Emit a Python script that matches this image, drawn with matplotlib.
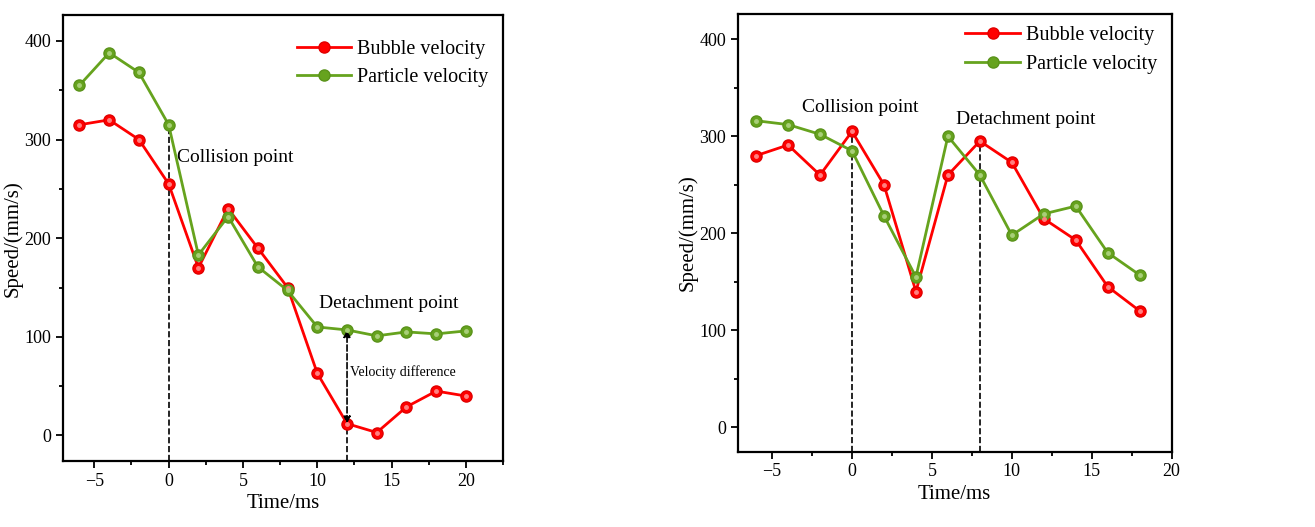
import numpy as np
import matplotlib.pyplot as plt
from matplotlib.ticker import MultipleLocator, FuncFormatter

plt.rcParams['font.family'] = ['Liberation Serif', 'DejaVu Serif']

# Left panel data
t_left = [-6, -4, -2, 0, 2, 4, 6, 8, 10, 12, 14, 16, 18, 20]
bubble_left = [315, 320, 300, 255, 170, 230, 190, 150, 63, 12, 3, 29, 45, 40]
particle_left = [355, 388, 368, 315, 183, 222, 171, 147, 110, 107, 101, 105, 103, 106]

# Right panel data
t_right = [-6, -4, -2, 0, 2, 4, 6, 8, 10, 12, 14, 16, 18]
bubble_right = [280, 291, 260, 305, 250, 140, 260, 295, 273, 215, 193, 145, 120]
particle_right = [316, 312, 302, 285, 218, 155, 300, 260, 198, 220, 228, 180, 157]

red = '#ff0000'
green = '#66a31e'

fig = plt.figure(figsize=(13.15, 5.27), dpi=100)
ax1 = fig.add_axes([0.048, 0.125, 0.3346, 0.846])
ax2 = fig.add_axes([0.561, 0.143, 0.330, 0.8305])

fmt = FuncFormatter(lambda v, pos: ('\u2212%d' % -v) if v < 0 else '%d' % v)


def style(ax, xlim, ylim):
    ax.set_xlim(*xlim)
    ax.set_ylim(*ylim)
    ax.xaxis.set_major_locator(MultipleLocator(5))
    ax.xaxis.set_minor_locator(MultipleLocator(2.5))
    ax.yaxis.set_major_locator(MultipleLocator(100))
    ax.yaxis.set_minor_locator(MultipleLocator(50))
    ax.xaxis.set_major_formatter(fmt)
    ax.tick_params(which='major', direction='out', length=5, width=1.3, labelsize=13)
    ax.tick_params(which='minor', direction='out', length=3, width=1.3)
    for s in ax.spines.values():
        s.set_linewidth(1.6)
    ax.set_xlabel('Time/ms', fontsize=15, labelpad=3)
    ax.set_ylabel('Speed/(mm/s)', fontsize=15, labelpad=1)


def draw(ax, t, b, p, anchor):
    ax.plot(t, b, '-o', color=red, lw=2, ms=8, mec='#e00000', label='Bubble velocity', zorder=3)
    ax.plot(t, p, '-o', color=green, lw=2, ms=8, mec='#5a931a', label='Particle velocity', zorder=3)
    # small highlight on the markers
    ax.plot(t, b, 'o', color='#ff8080', ms=2.5, ls='none', zorder=4)
    ax.plot(t, p, 'o', color='#a8cf78', ms=2.5, ls='none', zorder=4)
    ax.legend(loc='upper right', bbox_to_anchor=anchor, frameon=False, fontsize=14.5,
              handlelength=2.7, handletextpad=0.3, labelspacing=0.45, borderaxespad=0)


# Left panel
style(ax1, (-7.1, 22.5), (-26, 426))
draw(ax1, t_left, bubble_left, particle_left, (0.985, 0.963))
ax1.vlines(0, -26, particle_left[3], colors='k', linestyles='--', lw=1.2, zorder=2)
ax1.vlines(12, -26, bubble_left[9], colors='k', linestyles='--', lw=1.2, zorder=2)
ax1.annotate('', xy=(12, particle_left[9]), xytext=(12, bubble_left[9]),
             arrowprops=dict(arrowstyle='<|-|>', ls='--', color='k', lw=1.2,
                             mutation_scale=10, shrinkA=0, shrinkB=0))
ax1.text(0.55, 282, 'Collision point', fontsize=14, va='center')
ax1.text(10.1, 134, 'Detachment point', fontsize=14, va='center')
ax1.text(12.2, 64, 'Velocity difference', fontsize=10, va='center')

# Right panel
style(ax2, (-7.15, 20), (-25, 426))
draw(ax2, t_right, bubble_right, particle_right, (0.985, 0.99))
ax2.vlines(0, -25, bubble_right[3], colors='k', linestyles='--', lw=1.2, zorder=2)
ax2.vlines(8, -25, bubble_right[7], colors='k', linestyles='--', lw=1.2, zorder=2)
ax2.text(-3.1, 330, 'Collision point', fontsize=14, va='center')
ax2.text(6.5, 317, 'Detachment point', fontsize=14, va='center')

fig.savefig('out.png', dpi=100)
